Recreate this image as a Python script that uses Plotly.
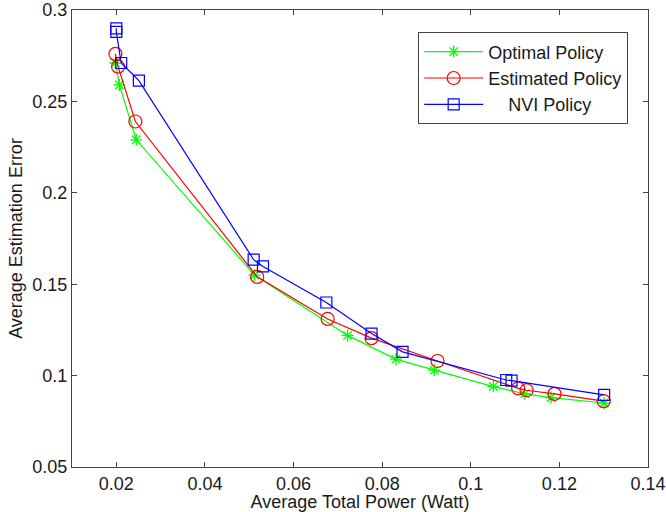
import plotly.graph_objects as go

# Average total power (Watt) vs. average estimation error for three policies
optimal_power = [0.0198, 0.0207, 0.0245, 0.0512, 0.0722, 0.0831, 0.0918, 0.1051, 0.1122, 0.1181, 0.1301]
optimal_error = [0.271, 0.259, 0.229, 0.155, 0.122, 0.109, 0.103, 0.094, 0.090, 0.088, 0.085]

estimated_power = [0.0198, 0.0204, 0.0243, 0.0518, 0.0677, 0.0776, 0.0925, 0.1107, 0.1126, 0.1189, 0.1300]
estimated_error = [0.276, 0.269, 0.239, 0.154, 0.131, 0.1205, 0.108, 0.093, 0.092, 0.090, 0.086]

nvi_power = [0.0200, 0.0200, 0.0211, 0.0251, 0.0510, 0.0531, 0.0674, 0.0776, 0.0846, 0.1080, 0.1092, 0.1301]
nvi_error = [0.290, 0.288, 0.271, 0.2614, 0.1634, 0.1597, 0.140, 0.123, 0.113, 0.0976, 0.0973, 0.0895]

x_ticks = [0.02, 0.04, 0.06, 0.08, 0.1, 0.12, 0.14]
y_ticks = [0.05, 0.1, 0.15, 0.2, 0.25, 0.3]

FONT = "Liberation Sans, Arial, sans-serif"
TEXT = "#1a1a1a"

fig = go.Figure()
fig.add_trace(go.Scatter(
    x=optimal_power, y=optimal_error, name="Optimal Policy",
    mode="lines+markers",
    line=dict(color="#00ff00", width=1.2),
    marker=dict(symbol="asterisk-open", size=10, line=dict(color="#00ff00", width=1.3)),
))
fig.add_trace(go.Scatter(
    x=estimated_power, y=estimated_error, name="Estimated Policy",
    mode="lines+markers",
    line=dict(color="#ff0000", width=1.2),
    marker=dict(symbol="circle-open", size=13, line=dict(color="#ff0000", width=1.2)),
))
fig.add_trace(go.Scatter(
    x=nvi_power, y=nvi_error, name="\u00a0\u00a0\u00a0\u00a0NVI Policy",
    mode="lines+markers",
    line=dict(color="#0000ff", width=1.2),
    marker=dict(symbol="square-open", size=11, line=dict(color="#0000ff", width=1.2)),
))

axis_common = dict(
    showgrid=False, zeroline=False, automargin=False,
    showline=True, linecolor="#444444", linewidth=1.2, mirror="ticks",
    ticks="inside", ticklen=5, tickcolor="#444444",
    tickfont=dict(family=FONT, size=18, color=TEXT),
    title_font=dict(family=FONT, size=18, color=TEXT),
)

fig.update_xaxes(range=[0.01, 0.14], tickvals=x_ticks,
                 ticktext=[f"{v:g}" for v in x_ticks],
                 title_text="Average Total Power (Watt)", title_standoff=0,
                 **axis_common)
fig.update_yaxes(range=[0.05, 0.3], tickvals=y_ticks,
                 ticktext=[f"{v:g}" for v in y_ticks],
                 title_text="Average Estimation Error", title_standoff=4,
                 **axis_common)

fig.update_layout(
    width=666, height=512,
    margin=dict(l=72, r=18, t=10, b=45),
    paper_bgcolor="white", plot_bgcolor="white",
    font=dict(family=FONT, size=18, color=TEXT),
    legend=dict(
        x=0.601, y=0.951, xanchor="left", yanchor="top",
        bgcolor="white", bordercolor="#444444", borderwidth=1,
        font=dict(family=FONT, size=18, color=TEXT),
        itemwidth=59, tracegroupgap=0,
    ),
    showlegend=True,
)

fig.write_html("out.html")
